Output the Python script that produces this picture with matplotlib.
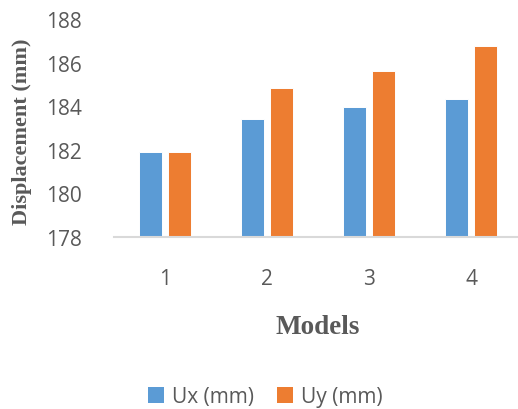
import matplotlib
matplotlib.use("Agg")
import matplotlib.pyplot as plt
import numpy as np

models = ["1", "2", "3", "4"]
ux = [181.9, 183.43, 183.95, 184.33]
uy = [181.9, 184.82, 185.63, 186.76]
series_names = ["Ux (mm)", "Uy (mm)"]
y_ticks = [178, 180, 182, 184, 186, 188]

blue = "#5B9BD5"
orange = "#ED7D31"
text_gray = "#595959"

W, H = 518, 410
fig = plt.figure(figsize=(W / 100, H / 100), dpi=100)
ax = fig.add_axes([114 / W, (H - 238) / H, 408 / W, 218 / H])

x = np.arange(len(models))
bw = 0.225
off = 0.142
ax.bar(x - off, ux, width=bw, bottom=0, color=blue, edgecolor="#FFFFFF", linewidth=0.7, label=series_names[0])
ax.bar(x + off, uy, width=bw, bottom=0, color=orange, edgecolor="#FFFFFF", linewidth=0.7, label=series_names[1])

ax.set_ylim(178, 188)
ax.set_xlim(-0.5, 3.5)
ax.set_yticks(y_ticks)
ax.set_yticklabels([str(t) for t in y_ticks])
ax.set_xticks(x)
ax.set_xticklabels(models)

for s in ["top", "right", "left"]:
    ax.spines[s].set_visible(False)
ax.spines["bottom"].set_color("#D9D9D9")
ax.spines["bottom"].set_linewidth(1.5)

ax.tick_params(axis="both", length=0, labelcolor=text_gray)
ax.tick_params(axis="y", pad=23)
ax.tick_params(axis="x", pad=22)
for lbl in ax.get_xticklabels() + ax.get_yticklabels():
    lbl.set_fontfamily("Open Sans")
    lbl.set_fontsize(15)

fig.text(22 / W, 1 - 132 / H, "Displacement (mm)", rotation=90, ha="center", va="center",
         family="Liberation Serif", weight="bold", size=16, color=text_gray)
fig.text(318 / W, 1 - 328 / H, "Models", ha="center", va="center",
         family="Liberation Serif", weight="bold", size=19.5, color=text_gray)

handles, labels = ax.get_legend_handles_labels()
leg = fig.legend(handles, labels, loc="center", bbox_to_anchor=(265 / W, 1 - 398 / H), ncol=2,
                 frameon=False, handlelength=0.8, handleheight=0.8, handletextpad=0.35, columnspacing=1.1,
                 prop={"family": "Open Sans", "size": 15})
for t in leg.get_texts():
    t.set_color(text_gray)
for p in leg.get_patches():
    p.set_edgecolor("none")

fig.savefig("out.png", dpi=100)
